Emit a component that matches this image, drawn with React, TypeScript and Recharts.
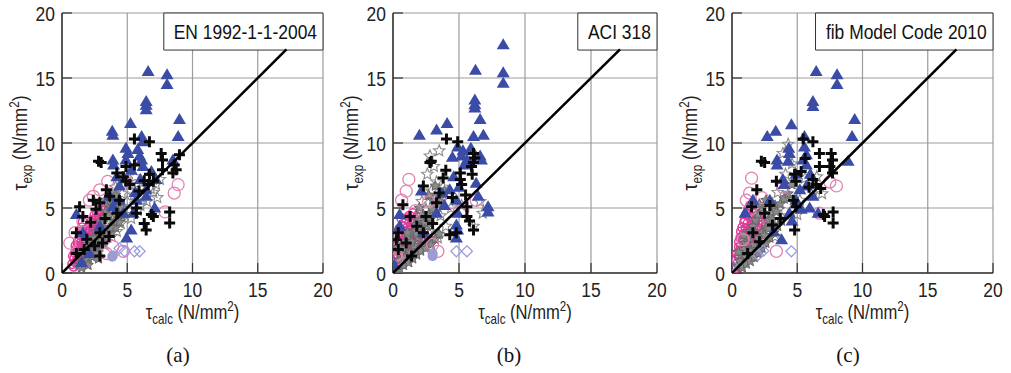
import { ScatterChart, Scatter, XAxis, YAxis, CartesianGrid, ReferenceArea } from 'recharts'

type Pt = [number, number]

const FONT = "'Liberation Sans', Arial, sans-serif"
const NARROW = 0.83
const AXIS_TICKS = [0, 5, 10, 15, 20]
const DIAGONAL: Pt[] = [[0, 0], [17.2, 17.2]]

// (a) EN 1992-1-1-2004
const enTri: Pt[] = [[6.6, 15.5], [8.05, 15.25], [8.05, 14.5], [6.45, 13.2], [6.45, 12.9], [6.45, 12.55], [9.0, 11.8], [8.9, 10.5], [5.25, 11.5], [3.85, 10.9], [3.9, 10.6], [3.9, 8.7], [3.95, 8.3], [6.1, 10.5], [6.2, 10.1], [4.9, 9.6], [5.05, 9.2], [5.8, 9.5], [5.95, 9.0], [6.1, 8.7], [6.2, 8.2], [4.9, 8.7], [5.3, 7.9], [6.85, 7.8], [7.2, 7.2], [4.4, 6.7], [3.65, 5.9], [6.45, 6.4], [6.45, 5.9], [7.1, 5.0], [5.45, 4.6], [5.3, 3.3], [4.95, 2.7], [3.9, 5.1], [1.1, 4.5], [1.6, 3.1], [2.9, 3.6], [1.5, 0.8], [2.1, 1.5], [8.5, 8.7], [4.7, 4.6], [5.7, 5.6], [4.4, 5.6], [5.6, 6.2], [4.2, 7.4], [6.0, 7.2]]
const enCross: Pt[] = [[5.55, 10.3], [6.7, 10.1], [3.0, 8.5], [2.8, 8.6], [7.6, 9.2], [7.7, 8.7], [9.0, 9.1], [8.6, 8.3], [8.75, 7.95], [8.5, 7.7], [5.55, 8.3], [6.7, 7.6], [7.0, 7.05], [6.6, 6.8], [4.7, 7.4], [4.9, 7.05], [5.2, 6.8], [3.4, 6.4], [3.65, 5.9], [2.4, 5.6], [2.9, 5.4], [2.6, 4.9], [5.7, 5.0], [5.7, 4.6], [6.85, 4.5], [7.0, 4.35], [6.3, 3.8], [6.45, 3.3], [8.25, 4.7], [8.25, 3.85], [4.2, 4.6], [1.35, 5.1], [1.6, 4.35], [1.1, 3.1], [1.9, 2.6], [2.9, 3.1], [3.1, 2.3], [2.9, 1.3], [1.1, 1.5], [4.4, 5.6], [4.2, 7.7], [7.7, 7.95], [4.9, 8.2], [1.7, 1.8], [2.2, 3.9], [3.3, 4.2], [5.9, 6.3], [6.3, 7.1], [3.6, 2.8], [2.5, 2.1]]
const enStar: Pt[] = [[3.0, 3.0], [3.5, 3.8], [4.0, 4.2], [4.5, 5.0], [5.0, 5.5], [5.5, 6.0], [6.0, 6.5], [6.8, 6.5], [7.2, 6.8], [7.5, 7.2], [6.5, 5.5], [5.8, 4.8], [4.8, 4.5], [4.2, 3.2], [3.8, 2.8], [3.2, 2.2], [2.8, 1.8], [2.5, 1.5], [2.0, 1.2], [1.5, 0.8], [4.8, 7.2], [5.2, 6.8], [3.5, 4.5], [4.0, 5.5], [2.8, 3.0], [2.2, 2.0], [1.8, 1.5], [7.0, 6.2], [6.2, 5.8], [3.2, 5.0], [3.8, 6.0], [4.5, 3.8], [5.3, 4.2], [6.0, 5.2], [7.3, 5.8], [4.1, 6.6], [3.3, 3.4], [2.6, 2.5], [5.6, 7.4], [4.6, 6.1]]
const enGray: Pt[] = [[1.3, 0.6], [1.65, 1.0], [1.8, 1.45], [2.05, 1.8], [2.2, 2.35], [2.45, 2.7], [2.6, 3.15], [2.85, 3.5], [3.0, 3.95], [3.25, 4.3], [3.4, 4.75], [3.65, 5.1], [1.5, 1.6], [1.9, 2.2], [2.3, 2.0], [2.7, 2.4], [3.1, 2.9], [3.5, 3.3], [3.9, 3.7], [4.3, 4.1], [4.6, 4.4], [3.8, 5.0], [4.2, 5.3], [2.1, 1.4], [2.5, 1.8], [3.3, 2.6], [1.5, 0.4], [1.75, 0.75], [2.0, 1.0], [2.3, 1.25], [2.6, 1.6], [2.9, 2.0], [3.2, 2.3], [3.5, 2.7], [3.8, 3.1], [4.1, 3.5], [4.4, 3.9], [2.2, 1.6], [2.6, 2.2], [3.0, 2.6], [3.4, 3.0], [3.7, 3.5], [4.0, 4.0], [4.3, 4.6], [4.6, 5.0], [3.6, 4.4], [3.9, 5.6], [4.1, 6.0], [3.3, 5.6], [2.0, 0.6], [2.8, 1.1]]
const enPink: Pt[] = [[0.8, 0.7], [0.95, 1.1], [1.0, 1.55], [1.15, 1.9], [1.2, 2.35], [1.35, 2.7], [1.4, 3.15], [1.55, 3.5], [1.6, 3.9], [1.25, 1.2], [1.4, 1.65], [1.65, 2.0], [1.8, 2.45], [2.05, 2.8], [2.2, 3.25], [2.45, 3.6], [2.6, 4.05], [2.85, 4.4], [3.0, 4.85], [1.55, 1.1], [1.7, 1.5], [1.95, 1.9], [2.1, 2.3], [2.35, 2.7], [2.5, 3.1], [2.75, 3.55], [2.9, 3.9], [3.15, 4.3], [1.3, 2.05], [1.5, 2.4], [1.75, 2.85], [1.9, 3.2], [2.1, 3.65], [2.3, 4.0], [2.5, 4.45], [1.1, 0.9], [2.0, 1.6], [2.25, 2.0], [2.4, 2.45], [2.65, 2.8], [0.9, 0.5], [1.05, 0.8], [1.3, 1.45], [1.45, 1.85], [1.6, 2.25], [1.85, 2.6], [1.95, 3.0], [2.15, 3.4], [2.35, 3.85], [2.55, 4.2], [2.7, 4.65], [2.95, 5.05], [3.2, 5.2], [1.7, 3.3], [1.45, 2.9], [1.25, 2.5], [1.05, 2.1], [0.85, 1.3], [2.8, 4.0], [3.05, 4.55], [2.2, 2.6], [1.85, 1.7], [1.5, 1.35], [2.45, 3.25], [2.65, 3.4], [3.3, 4.8]]
const enRing: Pt[] = [[3.5, 7.05], [2.9, 6.4], [2.1, 5.6], [7.9, 4.7], [8.6, 6.15], [8.9, 6.8], [0.6, 2.3], [1.0, 3.1], [3.9, 2.05], [4.7, 1.67], [1.6, 4.0], [2.4, 5.9], [4.9, 7.0], [3.4, 1.5]]
const enDiamond: Pt[] = [[4.8, 1.67], [5.55, 1.67], [5.95, 1.67], [4.4, 1.9]]
const enDot: Pt[] = [[3.9, 1.35], [3.85, 1.25]]

// (b) ACI 318
const aciTri: Pt[] = [[8.35, 17.55], [8.35, 15.4], [8.35, 14.6], [6.25, 15.6], [6.2, 13.3], [6.2, 12.95], [6.2, 12.7], [6.6, 11.8], [6.85, 10.6], [6.1, 10.5], [4.1, 11.5], [3.3, 11.0], [2.0, 10.6], [4.9, 9.7], [5.3, 9.4], [5.2, 9.0], [5.6, 8.7], [5.8, 8.5], [5.4, 8.3], [6.6, 9.0], [6.7, 8.7], [4.6, 7.4], [4.3, 6.4], [2.15, 6.3], [3.7, 6.15], [4.8, 5.6], [6.45, 5.9], [7.2, 5.1], [7.2, 4.7], [4.9, 4.6], [4.8, 3.7], [4.9, 3.3], [4.8, 2.7], [0.5, 4.5], [0.5, 3.6], [0.1, 0.6], [3.3, 4.6], [2.3, 3.1], [4.5, 8.9], [5.0, 6.6], [5.9, 9.6], [3.9, 5.2], [6.3, 6.9]]
const aciCross: Pt[] = [[4.05, 10.3], [4.9, 10.1], [2.8, 8.5], [2.9, 8.6], [6.1, 9.2], [6.2, 8.85], [6.1, 8.5], [5.95, 8.2], [5.1, 7.7], [5.1, 7.2], [5.2, 6.8], [3.8, 7.3], [3.5, 6.15], [0.75, 5.25], [5.6, 5.1], [5.6, 4.35], [5.8, 4.0], [6.1, 3.3], [4.3, 2.95], [4.8, 3.1], [1.8, 3.6], [2.3, 3.1], [0.4, 3.1], [0.25, 2.55], [0.4, 1.8], [1.4, 1.3], [2.5, 4.35], [1.3, 4.35], [3.3, 5.4], [2.3, 6.7], [4.0, 7.9], [5.5, 6.0], [3.0, 3.8], [1.0, 2.3], [4.5, 5.8], [6.0, 7.6]]
const aciStar: Pt[] = [[3.5, 9.4], [2.8, 9.0], [3.1, 8.2], [2.6, 7.6], [3.3, 7.0], [2.9, 6.3], [2.2, 5.5], [3.8, 6.6], [4.2, 6.0], [2.5, 4.9], [3.0, 5.0], [1.8, 4.2], [2.1, 3.4], [1.5, 2.6], [1.2, 1.8], [0.8, 1.2], [3.6, 4.4], [4.4, 5.0], [6.6, 5.5], [6.8, 4.6], [6.1, 3.6], [5.2, 5.2], [1.9, 2.4], [2.7, 3.2], [4.0, 3.6], [3.4, 2.7], [0.6, 0.8], [1.4, 3.6]]
const aciGray: Pt[] = [[0.3, 0.6], [0.5, 1.0], [0.6, 1.5], [0.8, 1.9], [1.0, 2.4], [1.2, 2.8], [1.5, 3.2], [1.7, 3.7], [2.0, 4.1], [2.3, 4.5], [0.9, 1.2], [1.3, 1.6], [1.6, 2.1], [1.9, 2.7], [2.2, 3.0], [2.6, 3.6], [2.9, 4.2], [3.2, 4.7], [3.0, 5.6], [3.4, 5.3], [2.4, 2.2], [2.8, 2.6], [1.1, 0.9], [0.4, 2.0], [0.5, 0.3], [0.8, 0.6], [1.2, 0.8], [1.5, 1.1], [1.8, 1.4], [2.1, 1.7], [2.5, 1.9], [2.9, 2.2], [3.2, 2.6], [3.5, 3.0], [1.4, 2.4], [1.8, 3.0], [2.1, 3.5], [2.4, 3.9], [2.7, 4.5], [3.0, 4.9], [3.6, 5.8], [3.9, 6.3], [3.2, 6.7], [2.7, 6.0], [1.1, 3.1], [2.0, 5.0]]
const aciPink: Pt[] = [[0.15, 0.7], [0.25, 1.2], [0.35, 1.7], [0.2, 2.1], [0.45, 2.5], [0.6, 2.9], [0.5, 3.4], [0.8, 3.8], [1.0, 4.2], [0.6, 1.1], [0.8, 1.6], [1.0, 2.0], [0.7, 2.4], [1.2, 2.7], [1.4, 3.1], [1.1, 3.5], [1.6, 3.8], [1.8, 4.3], [0.9, 0.9], [1.3, 1.4], [1.5, 1.9], [1.7, 2.3], [1.9, 2.8], [2.1, 3.2], [2.3, 3.7], [2.0, 4.6], [1.2, 1.1], [1.6, 1.5], [2.0, 1.9], [2.2, 2.4], [0.4, 0.5], [0.3, 3.0], [0.1, 1.5], [0.3, 2.4], [0.55, 3.1], [0.7, 3.6], [0.95, 3.9], [1.25, 4.4], [1.5, 4.6], [0.5, 1.9], [0.85, 2.2], [1.05, 2.9], [1.3, 3.3], [1.55, 3.5], [1.75, 2.6], [2.05, 3.0], [2.3, 3.3], [2.45, 4.0], [0.7, 0.7], [1.1, 1.3], [1.45, 1.65], [1.8, 1.8], [2.2, 2.1], [0.2, 0.3], [0.4, 1.4], [0.65, 4.2]]
const aciRing: Pt[] = [[1.2, 7.2], [1.0, 6.3], [0.65, 5.6], [4.4, 5.4], [6.3, 5.6], [3.4, 1.67], [0.25, 1.4], [1.7, 4.8], [2.7, 5.5], [5.3, 4.9], [3.0, 2.2], [0.3, 1.1]]
const aciDiamond: Pt[] = [[4.8, 1.67], [5.6, 1.67]]
const aciDot: Pt[] = [[3.0, 1.5], [3.0, 1.3]]

// (c) fib Model Code 2010
const fibTri: Pt[] = [[6.45, 15.5], [8.05, 15.25], [8.05, 14.5], [6.2, 13.2], [6.2, 12.8], [9.4, 11.8], [9.2, 10.5], [4.55, 11.4], [3.35, 10.9], [2.7, 10.5], [3.45, 8.7], [3.45, 8.3], [5.55, 10.5], [4.35, 9.6], [4.4, 9.2], [5.55, 9.7], [5.7, 9.1], [5.45, 8.7], [5.7, 8.3], [4.3, 8.6], [4.9, 7.6], [8.9, 8.6], [5.7, 6.7], [4.0, 6.8], [6.2, 5.9], [5.95, 5.0], [5.3, 4.9], [6.6, 4.6], [3.8, 2.55], [2.9, 5.6], [1.0, 4.6], [1.6, 5.6], [4.4, 4.6], [4.9, 5.6], [5.2, 6.4], [3.9, 7.2], [4.6, 4.0], [3.2, 3.2], [6.0, 7.6]]
const fibCross: Pt[] = [[5.45, 10.3], [6.2, 10.1], [6.7, 9.2], [7.6, 9.2], [7.7, 8.7], [2.25, 8.6], [2.5, 8.5], [6.7, 8.2], [7.5, 8.2], [7.7, 7.7], [4.8, 7.6], [4.9, 7.05], [6.2, 7.2], [6.45, 6.8], [3.4, 7.05], [1.9, 6.4], [1.5, 5.1], [4.7, 5.6], [4.9, 5.1], [7.0, 4.5], [7.1, 4.35], [7.75, 4.7], [7.75, 3.85], [4.8, 3.3], [2.5, 4.6], [5.3, 7.8], [5.9, 6.6], [3.7, 4.2], [2.9, 5.2], [1.6, 3.1], [2.1, 2.4], [1.2, 1.5], [5.6, 8.8], [3.1, 3.7], [6.8, 6.5]]
const fibStar: Pt[] = [[4.3, 9.9], [3.9, 9.2], [4.6, 8.4], [4.1, 7.6], [4.8, 7.0], [5.6, 7.3], [6.5, 7.4], [6.9, 6.1], [3.5, 6.2], [4.2, 5.8], [3.1, 5.3], [2.6, 4.4], [3.6, 4.9], [4.3, 4.4], [2.3, 3.3], [1.8, 2.5], [1.4, 1.8], [1.0, 1.1], [0.6, 0.6], [3.0, 3.6], [5.2, 5.6], [6.2, 6.4], [2.0, 4.9], [1.3, 3.6], [0.8, 2.7], [3.3, 2.8], [5.0, 4.5], [2.7, 3.9]]
const fibGray: Pt[] = [[0.4, 0.5], [0.6, 0.9], [0.7, 1.4], [0.9, 1.8], [1.0, 2.3], [1.2, 2.7], [1.4, 3.2], [1.6, 3.6], [1.8, 4.1], [2.0, 4.5], [2.3, 5.0], [1.1, 1.2], [1.4, 1.7], [1.7, 2.2], [2.0, 2.7], [2.3, 3.1], [2.6, 3.5], [2.8, 4.1], [3.0, 4.6], [3.3, 5.2], [0.5, 1.6], [0.9, 2.9], [1.5, 1.2], [0.8, 0.4], [1.1, 0.7], [1.4, 0.9], [1.7, 1.2], [2.0, 1.5], [2.3, 1.9], [2.6, 2.3], [2.9, 2.7], [3.2, 3.1], [3.5, 3.6], [3.8, 4.0], [1.9, 1.8], [2.2, 2.3], [2.5, 2.9], [2.8, 3.4], [3.1, 4.1], [3.4, 4.7], [3.7, 5.3], [4.0, 5.7], [4.3, 6.1], [4.6, 6.8], [2.6, 5.6], [2.1, 5.3]]
const fibPink: Pt[] = [[0.3, 0.4], [0.45, 0.8], [0.5, 1.3], [0.6, 1.7], [0.7, 2.1], [0.85, 2.5], [0.9, 3.0], [1.05, 3.4], [1.2, 3.8], [1.35, 4.3], [1.5, 4.8], [0.75, 0.9], [0.9, 1.4], [1.0, 1.9], [1.15, 2.3], [1.3, 2.7], [1.45, 3.1], [1.6, 3.5], [1.75, 3.9], [1.9, 4.4], [1.1, 1.0], [1.25, 1.5], [1.4, 2.0], [1.55, 2.4], [1.7, 2.9], [1.85, 3.3], [2.0, 3.7], [2.15, 4.1], [0.55, 2.4], [0.7, 3.2], [1.0, 4.1], [1.6, 1.6], [0.35, 1.0], [0.4, 1.5], [0.55, 2.0], [0.65, 2.7], [0.8, 3.5], [0.95, 3.9], [1.1, 4.5], [1.25, 4.9], [1.4, 5.2], [1.65, 4.6], [1.8, 4.9], [2.0, 4.3], [2.25, 4.6], [2.1, 3.4], [1.95, 3.0], [1.75, 2.5], [1.55, 2.0], [1.3, 1.7], [1.15, 1.3], [0.95, 1.1], [0.6, 0.5], [2.3, 3.9], [1.45, 3.7], [1.2, 3.2]]
const fibRing: Pt[] = [[1.5, 7.3], [1.35, 6.15], [1.1, 5.6], [8.0, 6.7], [6.7, 4.6], [3.4, 1.67], [0.85, 2.56], [2.3, 5.8], [7.5, 7.0], [3.9, 6.6], [1.4, 4.9]]
const fibDiamond: Pt[] = [[4.55, 1.67], [0.0, 0.6], [2.0, 1.4], [2.4, 1.7]]

const rows = (pts: Pt[]) => pts.map(([x, y]) => ({ x, y }))

// marker shapes
const Triangle = ({ cx, cy }: any) => (
  <polygon points={`${cx},${cy - 6.5} ${cx - 6.5},${cy + 4.5} ${cx + 6.5},${cy + 4.5}`} fill="#3a4ca6" />
)
const Cross = ({ cx, cy }: any) => (
  <path d={`M${cx - 5.5},${cy}H${cx + 5.5}M${cx},${cy - 5.5}V${cy + 5.5}`} stroke="#0a0a0a" strokeWidth={3} />
)
const starPoints = (cx: number, cy: number, r: number) => {
  const pts: string[] = []
  for (let i = 0; i < 10; i++) {
    const a = -Math.PI / 2 + (i * Math.PI) / 5
    const rr = i % 2 === 0 ? r : r * 0.45
    pts.push(`${cx + rr * Math.cos(a)},${cy + rr * Math.sin(a)}`)
  }
  return pts.join(' ')
}
const Star = ({ cx, cy }: any) => (
  <polygon points={starPoints(cx, cy, 6)} fill="none" stroke="#8a8a8a" strokeWidth={1.1} />
)
const GrayStar = ({ cx, cy }: any) => (
  <polygon points={starPoints(cx, cy, 5.5)} fill="#8a8a8a" stroke="#666" strokeWidth={1} />
)
const PinkDot = ({ cx, cy }: any) => (
  <circle cx={cx} cy={cy} r={4.5} fill="none" stroke="#de3d98" strokeWidth={1.5} />
)
const Ring = ({ cx, cy }: any) => (
  <circle cx={cx} cy={cy} r={6} fill="none" stroke="#e283b4" strokeWidth={1.3} />
)
const Diamond = ({ cx, cy }: any) => (
  <polygon points={`${cx},${cy - 5.5} ${cx + 5.5},${cy} ${cx},${cy + 5.5} ${cx - 5.5},${cy}`} fill="none" stroke="#9a9ae0" strokeWidth={1.2} />
)
const Dot = ({ cx, cy }: any) => <circle cx={cx} cy={cy} r={5} fill="#9b9bd6" />
const NoMark = () => <g />

// narrow-looking text (the source figure uses a condensed sans face)
const YTick = ({ x, y, payload }: any) => (
  <text transform={`translate(${x},${y}) scale(${NARROW},1)`} textAnchor="end" dy="0.36em" fontSize={21} fontFamily={FONT} fill="#222">
    {payload.value}
  </text>
)
const XTick = ({ x, y, payload }: any) => (
  <text transform={`translate(${x},${y}) scale(${NARROW},1)`} textAnchor="middle" dy="0.72em" fontSize={21} fontFamily={FONT} fill="#222">
    {payload.value}
  </text>
)
const AxisTitle = ({ sub }: { sub: string }) => (
  <>
    <tspan>τ</tspan>
    <tspan fontSize={14} dy={5}>{sub}</tspan>
    <tspan dy={-5}> (N/mm</tspan>
    <tspan fontSize={14} dy={-8}>2</tspan>
    <tspan dy={8}>)</tspan>
  </>
)
const XLabel = ({ viewBox }: any) => (
  <text transform={`translate(${viewBox.x + viewBox.width / 2},${viewBox.y + 46}) scale(${NARROW},1)`} textAnchor="middle" fontSize={20} fontFamily={FONT} fill="#222">
    <AxisTitle sub="calc" />
  </text>
)
const YLabel = ({ viewBox }: any) => (
  <text transform={`translate(${viewBox.x + 15},${viewBox.y + viewBox.height / 2}) rotate(-90) scale(${NARROW},1)`} textAnchor="middle" fontSize={21} fontFamily={FONT} fill="#222">
    <AxisTitle sub="exp" />
  </text>
)
const BoxLabel = ({ viewBox, value }: any) => (
  <text transform={`translate(${viewBox.x + viewBox.width / 2 + 2},${viewBox.y + viewBox.height / 2}) scale(${NARROW},1)`} textAnchor="middle" dy="0.36em" fontSize={21} fontFamily={FONT} fill="#111">
    {value}
  </text>
)

interface PanelProps {
  left: number
  rightMargin: number
  title: string
  boxFrom: number
  tri: Pt[]
  cross: Pt[]
  star: Pt[]
  gray: Pt[]
  pink: Pt[]
  ring: Pt[]
  diamond: Pt[]
  dot: Pt[]
}

function Panel(p: PanelProps) {
  return (
    <div style={{ position: 'absolute', left: p.left, top: 0 }}>
      <ScatterChart width={340} height={340} margin={{ top: 13, right: p.rightMargin, left: 12, bottom: 27 }}>
        <CartesianGrid stroke="#9c9c9c" strokeWidth={1.2} />
        <XAxis type="number" dataKey="x" domain={[0, 20]} ticks={AXIS_TICKS} allowDataOverflow height={40}
          tick={<XTick />} tickSize={-10} tickMargin={19} tickLine={{ stroke: '#333', strokeWidth: 1.2 }}
          axisLine={{ stroke: '#333', strokeWidth: 1.5 }} label={<XLabel />} />
        <YAxis type="number" dataKey="y" domain={[0, 20]} ticks={AXIS_TICKS} allowDataOverflow width={50}
          tick={<YTick />} tickSize={-10} tickMargin={17} tickLine={{ stroke: '#333', strokeWidth: 1.2 }}
          axisLine={{ stroke: '#333', strokeWidth: 1.5 }} label={<YLabel />} />
        <Scatter data={rows(p.star)} shape={Star} isAnimationActive={false} />
        <Scatter data={rows(p.pink)} shape={PinkDot} isAnimationActive={false} />
        <Scatter data={rows(p.gray)} shape={GrayStar} isAnimationActive={false} />
        <Scatter data={rows(p.ring)} shape={Ring} isAnimationActive={false} />
        <Scatter data={rows(p.diamond)} shape={Diamond} isAnimationActive={false} />
        <Scatter data={rows(p.dot)} shape={Dot} isAnimationActive={false} />
        <Scatter data={rows(p.tri)} shape={Triangle} isAnimationActive={false} />
        <Scatter data={rows(p.cross)} shape={Cross} isAnimationActive={false} />
        <Scatter data={rows(DIAGONAL)} shape={NoMark} line={{ stroke: '#000', strokeWidth: 2.6 }} isAnimationActive={false} />
        <ReferenceArea x1={p.boxFrom} x2={20} y1={17.15} y2={20} fill="#fff" fillOpacity={1} stroke="#333" strokeWidth={1}
          ifOverflow="visible" label={<BoxLabel value={p.title} />} />
      </ScatterChart>
    </div>
  )
}

const captionStyle = (x: number): React.CSSProperties => ({
  position: 'absolute', left: x - 30, width: 60, top: 343, textAlign: 'center',
  fontFamily: "'Liberation Serif', 'Times New Roman', serif", fontSize: 21, color: '#111',
})

export default function App() {
  return (
    <div style={{ position: 'absolute', left: 0, top: 0, width: 1011, height: 373, background: '#fff', overflow: 'hidden' }}>
      <Panel left={0} rightMargin={17} title="EN 1992-1-1-2004" boxFrom={7.8}
        tri={enTri} cross={enCross} star={enStar} gray={enGray} pink={enPink} ring={enRing} diamond={enDiamond} dot={enDot} />
      <Panel left={331} rightMargin={14} title="ACI 318" boxFrom={14.0}
        tri={aciTri} cross={aciCross} star={aciStar} gray={aciGray} pink={aciPink} ring={aciRing} diamond={aciDiamond} dot={aciDot} />
      <Panel left={670} rightMargin={17} title="fib Model Code 2010" boxFrom={6.4}
        tri={fibTri} cross={fibCross} star={fibStar} gray={fibGray} pink={fibPink} ring={fibRing} diamond={fibDiamond} dot={[]} />
      <div style={captionStyle(178)}>(a)</div>
      <div style={captionStyle(509)}>(b)</div>
      <div style={captionStyle(848)}>(c)</div>
    </div>
  )
}
